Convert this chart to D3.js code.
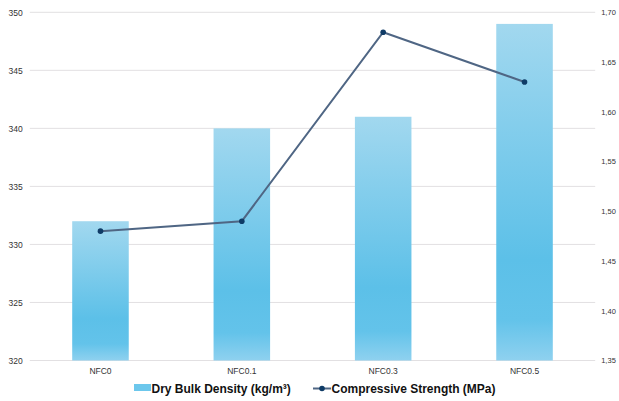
<!DOCTYPE html>
<html>
<head>
<meta charset="utf-8">
<script src="https://cdn.jsdelivr.net/npm/d3@7/dist/d3.min.js"></script>
<style>
  html, body { margin: 0; padding: 0; background: #fff; }
  svg { display: block; font-family: "Liberation Sans", Arial, Helvetica, sans-serif; }
</style>
</head>
<body>
<svg id="chart" width="619" height="401"></svg>
<script>
// Mixes and measured properties
const categories = ["NFC0", "NFC0.1", "NFC0.3", "NFC0.5"];
const densityValues = [332, 340, 341, 349];          // kg/m³
const strengthValues = [1.48, 1.49, 1.68, 1.63];     // MPa
const densityTicks = [320, 325, 330, 335, 340, 345, 350];
const strengthTicks = [1.35, 1.40, 1.45, 1.50, 1.55, 1.60, 1.65, 1.70];
const seriesNames = ["Dry Bulk Density (kg/m³)", "Compressive Strength (MPa)"];

const svg = d3.select("#chart");
const plot = { left: 29.8, right: 595.2, top: 12.3, bottom: 360.5 };

const x = d3.scaleBand().domain(categories).range([plot.left, plot.right]).paddingInner(0.6).paddingOuter(0.3);
const yLeft = d3.scaleLinear().domain([320, 350]).range([plot.bottom, plot.top]);
const yRight = d3.scaleLinear().domain([1.35, 1.70]).range([plot.bottom, plot.top]);

// Bar fill: light at top, saturated lower down, lighter again at the base
const defs = svg.append("defs");
const grad = defs.append("linearGradient").attr("id", "barFill")
  .attr("x1", 0).attr("y1", 0).attr("x2", 0).attr("y2", 1);
grad.append("stop").attr("offset", "0%").attr("stop-color", "#a2d8ef");
grad.append("stop").attr("offset", "70%").attr("stop-color", "#5cc0e8");
grad.append("stop").attr("offset", "88%").attr("stop-color", "#63c3ea");
grad.append("stop").attr("offset", "100%").attr("stop-color", "#8fd1ef");

// Gridlines follow the density scale
svg.append("g")
  .selectAll("line")
  .data(densityTicks)
  .join("line")
  .attr("x1", plot.left).attr("x2", plot.right)
  .attr("y1", d => yLeft(d)).attr("y2", d => yLeft(d))
  .attr("stroke", "#e2e0e2").attr("stroke-width", 1);

// Left axis (density)
const leftAxis = svg.append("g")
  .attr("transform", `translate(${plot.left},0)`)
  .call(d3.axisLeft(yLeft).tickValues(densityTicks).tickSize(0).tickPadding(7).tickFormat(d3.format("d")));
leftAxis.select(".domain").remove();
leftAxis.selectAll("text").attr("font-size", 8.5).attr("fill", "#333").attr("font-family", null);

// Right axis (strength, comma decimals)
const commaFmt = d => d3.format(".2f")(d).replace(".", ",");
const rightAxis = svg.append("g")
  .attr("transform", `translate(${plot.right},0)`)
  .call(d3.axisRight(yRight).tickValues(strengthTicks).tickSize(0).tickPadding(6).tickFormat(commaFmt));
rightAxis.select(".domain").remove();
rightAxis.selectAll("text").attr("font-size", 7.5).attr("fill", "#333").attr("font-family", null);

// Bars
svg.append("g")
  .selectAll("rect")
  .data(categories)
  .join("rect")
  .attr("x", d => x(d))
  .attr("width", x.bandwidth())
  .attr("y", (d, i) => yLeft(densityValues[i]))
  .attr("height", (d, i) => yLeft(320) - yLeft(densityValues[i]))
  .attr("fill", "url(#barFill)");

// Category axis
const bottomAxis = svg.append("g")
  .attr("transform", `translate(0,${plot.bottom})`)
  .call(d3.axisBottom(x).tickSize(0).tickPadding(7));
bottomAxis.select(".domain").remove();
bottomAxis.selectAll("text").attr("font-size", 8.5).attr("fill", "#333").attr("font-family", null);

// Strength line
const line = d3.line()
  .x((d, i) => x(categories[i]) + x.bandwidth() / 2)
  .y(d => yRight(d));
svg.append("path")
  .datum(strengthValues)
  .attr("d", line)
  .attr("fill", "none")
  .attr("stroke", "#4f6684")
  .attr("stroke-width", 2);
svg.append("g")
  .selectAll("circle")
  .data(strengthValues)
  .join("circle")
  .attr("cx", (d, i) => x(categories[i]) + x.bandwidth() / 2)
  .attr("cy", d => yRight(d))
  .attr("r", 2.8)
  .attr("fill", "#0f3b66");

// Legend
const legend = svg.append("g").attr("font-size", 12).attr("font-weight", "bold").attr("fill", "#111");
legend.append("rect").attr("x", 134).attr("y", 384).attr("width", 17).attr("height", 7).attr("fill", "#6cc7ec");
legend.append("text").attr("x", 151.5).attr("y", 393).text(seriesNames[0]);
legend.append("line").attr("x1", 313).attr("x2", 331).attr("y1", 388.5).attr("y2", 388.5)
  .attr("stroke", "#4f6684").attr("stroke-width", 2);
legend.append("circle").attr("cx", 322).attr("cy", 388.5).attr("r", 2.8).attr("fill", "#0f3b66");
legend.append("text").attr("x", 331.5).attr("y", 393).text(seriesNames[1]);
</script>
</body>
</html>
